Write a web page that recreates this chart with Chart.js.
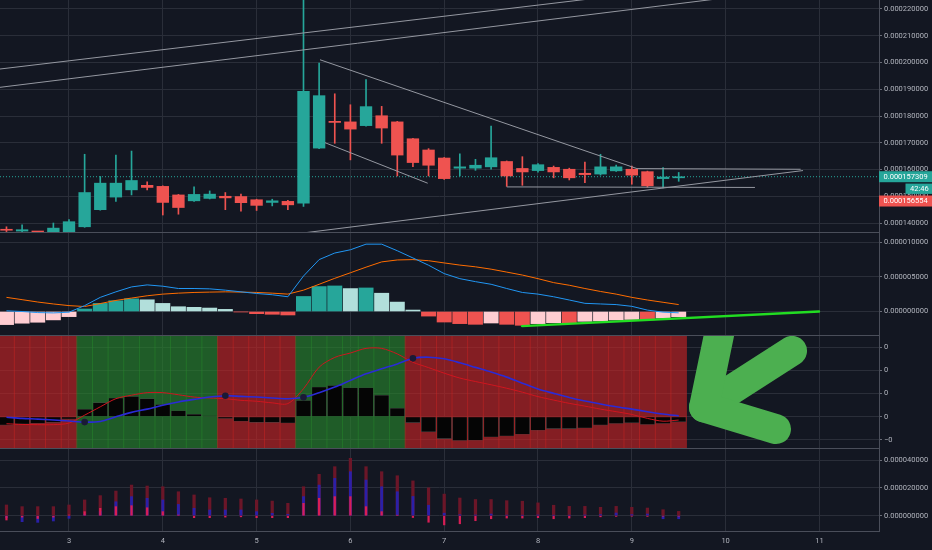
<!DOCTYPE html>
<html><head><meta charset="utf-8">
<script src="https://cdn.jsdelivr.net/npm/chart.js@4.4.1/dist/chart.umd.min.js"></script>
<style>
html,body{margin:0;padding:0;background:#131722;width:932px;height:550px;overflow:hidden}
.pane{position:absolute;left:0;width:932px}
canvas{display:block}
</style></head><body>
<div class="pane" style="top:0;height:233px"><canvas id="c1" width="932" height="233"></canvas></div>
<div class="pane" style="top:233px;height:103px"><canvas id="c2" width="932" height="103"></canvas></div>
<div class="pane" style="top:336px;height:113px"><canvas id="c3" width="932" height="113"></canvas></div>
<div class="pane" style="top:449px;height:101px"><canvas id="c4" width="932" height="101"></canvas></div>
<script>
// ---------- data (prices and indicator values in units of 1e-6) ----------
const days = [3,4,5,6,7,8,9,10,11];
const firstBar = 3 - 4/6;      // first visible 4h bar
const barsPerDay = 6;

const opens  = [137.6,137.0,136.4,136.6,136.5,138.6,145.0,149.7,152.4,154.1,153.7,150.5,148.3,149.2,150.0,149.9,148.7,147.7,148.1,147.4,168.0,178.0,177.8,176.4,180.1,177.8,171.5,167.3,164.3,160.5,160.5,161.0,163.0,160.4,159.6,160.8,160.1,158.6,158.3,159.5,160.1,159.2,156.6,156.9];
const highs  = [138.6,139.3,136.6,140.0,141.3,165.7,157.4,165.4,166.9,155.4,153.9,150.7,153.5,152.0,151.4,150.8,148.9,148.9,148.5,230.0,199.8,188.3,184.2,193.6,183.6,178.0,171.7,167.8,164.5,165.9,163.8,176.2,163.2,164.8,162.2,161.3,160.5,162.8,165.7,161.7,161.3,159.4,160.7,158.9];
const lows   = [136.8,136.8,135.8,136.0,136.3,138.4,144.8,148.1,150.5,152.4,143.0,143.3,148.1,149.0,145.0,144.4,144.7,146.4,145.0,146.2,167.8,169.8,163.6,176.2,169.8,157.6,161.1,157.6,156.3,157.6,159.7,160.1,153.7,154.1,159.0,156.9,156.1,155.1,157.9,159.3,154.5,153.4,153.1,155.6];
const closes = [137.3,137.5,136.2,138.1,140.5,151.4,154.9,154.9,155.9,153.3,147.7,145.8,150.7,150.8,149.4,147.6,146.6,148.3,146.8,189.2,187.6,177.6,175.1,183.5,175.5,165.4,162.6,161.6,156.6,161.0,161.6,164.4,157.6,159.1,161.8,159.1,156.9,158.1,161.0,161.0,157.9,153.9,157.2,157.3];
const priceTicks = [140,150,160,170,180,190,200,210,220];
const lastPrice = 157.309;
const otherPrice = 156.554;
const countdown = '42:46';

// drawn trend lines [day, price]
const trendLines = [
  [[2.2,197.29],[8.6,223.95]],
  [[2.2,190.44],[9.9,223.72]],
  [[5.676,201.02],[9.055,160.35]],
  [[9.055,160.35],[10.8,160.1]],
  [[5.729,170.03],[6.824,154.88]],
  [[7.667,153.5],[10.313,153.3]],
  [[5.5,136.3],[10.825,159.61]]
];

// MACD pane
const macdHist   = [-1.89,-1.69,-1.55,-1.21,-0.74,0.36,1.17,1.55,1.83,1.69,1.17,0.69,0.6,0.5,0.31,-0.05,-0.31,-0.4,-0.5,2.17,3.6,3.69,3.31,3.4,2.64,1.36,0.21,-0.66,-1.52,-1.75,-1.85,-1.66,-1.85,-1.99,-1.75,-1.62,-1.66,-1.42,-1.37,-1.22,-1.15,-1.2,-0.95,-0.75];
const macdLine   = [0.1,0.0,-0.15,-0.2,-0.1,0.85,2.04,2.84,3.55,3.84,3.65,3.32,3.32,3.27,3.08,2.84,2.6,2.42,2.13,5.12,7.49,8.44,8.91,9.72,9.72,8.77,7.73,6.68,5.47,4.74,4.31,3.93,3.32,2.75,2.51,2.13,1.66,1.18,1.09,1.0,0.75,0.2,-0.09,-0.19];
const signalLine = [2.04,1.71,1.37,1.09,0.85,0.72,1.15,1.6,1.94,2.27,2.51,2.65,2.75,2.8,2.84,2.8,2.75,2.65,2.51,3.08,3.93,4.79,5.59,6.4,7.16,7.44,7.49,7.33,7.01,6.7,6.45,6.11,5.69,5.26,4.74,4.17,3.79,3.32,2.89,2.51,2.04,1.66,1.33,1.0];
const macdTicks = [0,5,10];
const macdTrend = [[7.829,-2.1],[10.996,0]];

// oscillator pane
const oscHist = [-0.36,-0.31,-0.28,-0.24,-0.1,0.33,0.61,0.81,0.87,0.78,0.53,0.26,0.11,0.03,-0.07,-0.19,-0.24,-0.24,-0.27,0.7,1.28,1.35,1.25,1.25,0.93,0.37,-0.25,-0.65,-0.94,-1.02,-1.01,-0.87,-0.83,-0.75,-0.58,-0.51,-0.51,-0.48,-0.36,-0.29,-0.26,-0.33,-0.29,-0.22];
const oscSlow = [-0.02,-0.07,-0.1,-0.14,-0.18,-0.23,-0.2,0.0,0.19,0.33,0.5,0.64,0.75,0.85,0.91,0.88,0.85,0.81,0.78,0.84,1.04,1.28,1.57,1.85,2.07,2.28,2.52,2.57,2.5,2.33,2.13,1.93,1.71,1.45,1.2,1.01,0.83,0.68,0.55,0.43,0.33,0.22,0.12,0.04];
const oscFast = [-0.3,-0.33,-0.34,-0.34,-0.27,0.07,0.43,0.78,0.93,1.04,1.04,0.95,0.85,0.81,0.78,0.71,0.67,0.6,0.57,1.21,2.14,2.56,2.75,2.95,2.95,2.71,2.35,2.12,1.88,1.67,1.52,1.38,1.23,1.06,0.87,0.72,0.58,0.46,0.33,0.22,0.1,-0.07,-0.19,-0.14];
const oscTicks = [-1,0,1,2,3];
const oscTickLabels = ['\u22120','0','0','0','0'];
const arrowHead  = [[9.951,3.95],[9.77,0.41],[10.537,-0.53]];
const arrowShaft = [[9.77,0.41],[10.708,2.84]];

// bottom pane
const volDark    = [7.7,6.5,6.5,6.5,7.7,11.3,14.4,17.7,22,21.3,20.8,17.2,14.9,12.9,12.5,12,11.3,10.5,8.9,20.8,29.7,35.2,41.2,35.2,31.6,28.7,25,20,15.5,12.7,11.6,11.6,10.8,10.4,9.2,7.5,6.7,6.7,6,6.7,6,5.5,4.3,3.1];
const volBlue    = [-1.5,-4.3,-4.8,-3.8,-1.9,1.0,3.0,10,13.7,12.5,11.3,8.1,5.3,4.1,4.1,4.1,2.9,1.7,1.0,13.7,22,26.8,31.6,25.6,20.8,17.2,13.8,7.5,1.8,0.7,0.5,1.2,0.4,0.3,0.5,0.3,0.3,0.5,0.8,1.9,0.8,1.2,-2.2,-2.2];
const volCrimson = [-3.1,-1.0,-2.0,-1.0,0.5,2.9,5.3,6.5,7.2,5.7,2.9,0.5,-1.4,-1.4,-1.0,-0.8,-1.4,-1.4,-1.4,8.9,12.5,13.7,13.7,6.5,2.9,0.3,-1.3,-4.7,-6.6,-5.8,-3.6,-2.2,-1.7,-1.7,-1.4,-2.2,-1.7,-1.4,-0.8,-0.5,-0.3,-0.5,-0.3,-0.3];
const volTicks = [0,20,40];

// ---------- view / style ----------
const xMin = 2.2644, xMax = 11.6354;
const FONT = 'Roboto, "Liberation Sans", sans-serif';
const GRID = '#2a2e39', SEP = '#4a4e5a', TXT = '#b2b5be', TICKC = '#6a6d78';
const UP = '#26a69a', DOWN = '#ef5350';
const times = opens.map((_, i) => firstBar + i / barsPerDay);
const pts = arr => arr.map(([x, y]) => ({x, y}));
const series = arr => arr.map((y, i) => ({x: times[i], y}));
const fmtPrice = v => (v / 1e6).toFixed(9);

function xScale(showLabels) {
  return {
    type: 'linear', min: xMin, max: xMax, offset: false,
    afterBuildTicks: s => { s.ticks = days.map(v => ({value: v})); },
    grid: {color: GRID, drawTicks: false, offset: false},
    border: {display: true, color: SEP, width: 1},
    ticks: {display: showLabels, color: TXT, font: {family: FONT, size: 7.5}, padding: 6, maxRotation: 0, autoSkip: false, callback: v => String(v)},
    afterFit: s => { s.height = showLabels ? 19 : 1; s.paddingLeft = 0; s.paddingRight = 0; }
  };
}
function yScale(min, max, ticks, fmt) {
  return {
    type: 'linear', position: 'right', min, max, beginAtZero: false,
    afterBuildTicks: s => { s.ticks = ticks.map(v => ({value: v})); },
    grid: {color: GRID, tickColor: TICKC, tickLength: 3, drawTicks: true},
    border: {display: true, color: SEP},
    ticks: {color: TXT, font: {family: FONT, size: 7.5}, padding: 2, autoSkip: false, callback: fmt},
    afterFit: s => { s.width = 53; s.paddingTop = 0; s.paddingBottom = 0; }
  };
}
function makeChart(id, datasets, y, showX, plugins) {
  return new Chart(document.getElementById(id), {
    type: 'bar',
    data: {datasets},
    options: {
      responsive: false, animation: false, events: [],
      layout: {padding: 0, autoPadding: false},
      plugins: {legend: {display: false}, tooltip: {enabled: false}},
      scales: {x: xScale(showX), y}
    },
    plugins: plugins || []
  });
}
const lineDs = (data, color, width, order, extra) => Object.assign({
  type: 'line', data, borderColor: color, borderWidth: width, pointRadius: 0, tension: 0, fill: false, order
}, extra || {});

// ---------- pane 1: candles ----------
const candleColor = opens.map((o, i) => closes[i] >= o ? UP : DOWN);
const labelPlugin = {
  id: 'priceLabels',
  afterDraw(chart) {
    const ys = chart.scales.y, ctx = chart.ctx;
    const left = ys.left, w = chart.width - left;
    const yp = ys.getPixelForValue(lastPrice);
    const box = (x, yc, bw, h, color, text) => {
      ctx.fillStyle = color;
      ctx.fillRect(x, yc - h / 2, bw, h);
      ctx.fillStyle = '#ffffff';
      ctx.fillText(text, x + 4.5, yc + 0.5);
    };
    ctx.save();
    ctx.font = '7.5px ' + FONT;
    ctx.textBaseline = 'middle';
    ctx.textAlign = 'left';
    box(left, yp, w, 11, UP, fmtPrice(lastPrice));
    box(left + 26.5, yp + 12, w - 26.5, 10.3, UP, countdown);
    box(left, yp + 24.3, w, 11, DOWN, fmtPrice(otherPrice));
    ctx.restore();
  }
};
makeChart('c1', [
  lineDs(pts([[xMin, lastPrice], [xMax, lastPrice]]), UP, 1, 6, {borderDash: [1, 2]}),
  {type: 'bar', data: times.map((t, i) => ({x: t, y: [lows[i], highs[i]]})), backgroundColor: candleColor, barThickness: 1, grouped: false, order: 5},
  {type: 'bar', data: times.map((t, i) => ({x: t, y: [opens[i], closes[i]]})), backgroundColor: candleColor, barThickness: 11.7, minBarLength: 1, grouped: false, order: 4},
  ...trendLines.map(seg => lineDs(pts(seg), '#9598a1', 1, 1))
], yScale(136.65, 223.35, priceTicks, fmtPrice), false, [labelPlugin]);

// ---------- pane 2: MACD ----------
const histColors = macdHist.map((v, i) => {
  const p = i ? macdHist[i - 1] : v;
  if (v >= 0) return v >= p ? '#26a69a' : '#b2dfdb';
  return v < p ? '#ef5350' : '#ffcdd2';
});
makeChart('c2', [
  {type: 'bar', data: series(macdHist), backgroundColor: histColors, barThickness: 14.3, grouped: false, order: 5},
  lineDs(series(signalLine), '#ff6d00', 1, 3),
  lineDs(series(macdLine), '#2196f3', 1, 2),
  lineDs(pts(macdTrend), '#22dd22', 2.3, 0, {borderCapStyle: 'round'})
], yScale(-3.39, 11.33, macdTicks, fmtPrice), false);

// ---------- pane 3: oscillator ----------
const oscMin = -1.346, oscMax = 3.483;
const bgColors = oscHist.map(v => v >= 0 ? 'rgba(39,135,44,0.62)' : 'rgba(201,35,36,0.62)');
const crossIdx = oscHist.map((v, i) => i > 0 && (v >= 0) !== (oscHist[i - 1] >= 0) ? i : -1).filter(i => i >= 0);
makeChart('c3', [
  {type: 'bar', data: times.map(t => ({x: t, y: [oscMin, oscMax]})), backgroundColor: bgColors, barThickness: 15.8, grouped: false, order: 10},
  {type: 'bar', data: series(oscHist), backgroundColor: '#050505', borderColor: 'rgba(70,70,70,0.9)', borderWidth: 0.6, barThickness: 14.5, grouped: false, order: 8},
  lineDs(series(oscFast), '#d0151f', 1, 6, {tension: 0.3}),
  lineDs(series(oscSlow), '#2b2bd6', 1.6, 5, {tension: 0.3}),
  {type: 'line', data: crossIdx.map(i => ({x: times[i], y: oscSlow[i]})), showLine: false, pointRadius: 3.3, pointBackgroundColor: '#1a1a36', pointBorderWidth: 0, order: 4},
  lineDs(pts(arrowHead), '#4caf50', 30, 1, {borderCapStyle: 'round', borderJoinStyle: 'round'}),
  lineDs(pts(arrowShaft), '#4caf50', 30, 1, {borderCapStyle: 'round', borderJoinStyle: 'round'})
], yScale(oscMin, oscMax, oscTicks, (v, i) => oscTickLabels[i]), false);

// ---------- pane 4 ----------
makeChart('c4', [
  {type: 'bar', data: series(volDark), backgroundColor: '#6b1628', barThickness: 2.6, grouped: false, order: 3},
  {type: 'bar', data: series(volBlue), backgroundColor: '#2a20a8', barThickness: 2.2, grouped: false, order: 2},
  {type: 'bar', data: series(volCrimson), backgroundColor: '#d81e55', barThickness: 1.6, grouped: false, order: 1}
], yScale(-10.99, 47.9, volTicks, fmtPrice), true);
</script>
</body></html>
